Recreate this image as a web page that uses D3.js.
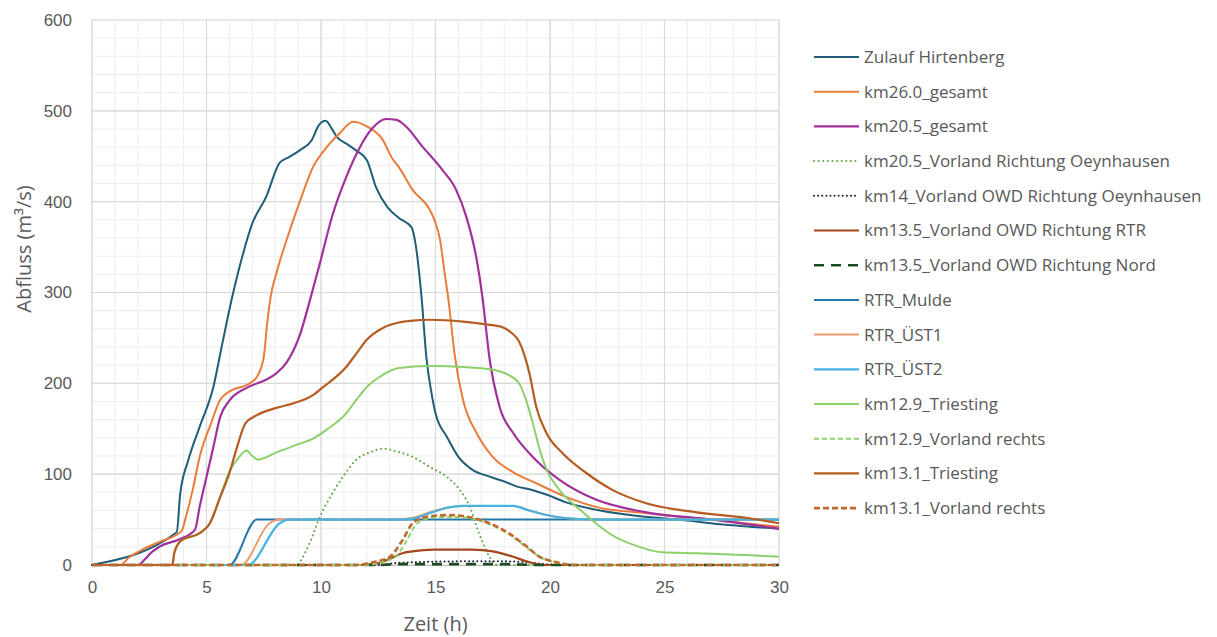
<!DOCTYPE html>
<html>
<head>
<meta charset="utf-8">
<script src="https://cdn.jsdelivr.net/npm/d3@7"></script>
<style>
  html, body { margin: 0; padding: 0; background: #ffffff; }
  svg { display: block; font-family: "Open Sans", "Noto Sans", sans-serif; }
</style>
</head>
<body>
<svg id="chart" width="1217" height="637"></svg>
<script>
// Abflussganglinien: Zeit (h) gegen Abfluss (m³/s), je Querschnitt [t, Q]
const zulaufHirtenberg = [
  [0,0],[3.7,36],[3.85,78],[4.2,115],[4.7,152],[5.3,196],[5.7,245],[6.15,298],[6.6,343],[7.0,376],
  [7.6,405],[8.2,443],[8.6,449],[9.1,457],[9.6,468],[9.9,484],[10.2,489],[10.5,479],[10.7,471],
  [11.1,464],[11.5,457],[12.0,446],[12.4,416],[12.9,394],[13.4,382],[13.95,372],[14.15,350],
  [14.4,292],[14.6,229],[14.8,193],[15.0,167],[15.5,141],[16.0,119],[16.6,105],[17.4,97],[18.1,91],
  [18.6,86],[19.0,84],[19.9,77],[20.7,69],[21.8,62],[23.5,55],[25.6,50],[27.8,44],[30,40]
];
const km260Gesamt = [
  [0,0],[1.25,0],[1.6,8],[2.2,17],[3.0,26],[3.9,37],[4.1,53],[4.4,83],[4.7,119],[5.2,156],[5.6,182],
  [6.15,193],[6.75,198],[7.2,207],[7.5,229],[7.65,266],[7.8,295],[8.05,321],[8.5,358],[9.1,402],
  [9.65,438],[10.25,460],[10.8,475],[11.4,488],[12.0,483],[12.7,468],[13.1,448],[13.4,438],[14.0,413],
  [14.75,391],[14.95,380],[15.2,358],[15.4,321],[15.55,295],[15.85,229],[16.2,182],[16.8,145],
  [17.5,119],[18.4,102],[19.4,90],[20.7,75],[22.0,64],[24.2,57],[27.0,50],[30,42]
];
const km205Gesamt = [
  [0,0],[2.0,0],[2.3,6],[2.6,14],[3.0,21],[3.8,28],[4.5,39],[4.7,64],[5.0,97],[5.3,130],[5.6,163],
  [6.0,181],[6.75,195],[7.6,204],[8.05,211],[8.5,223],[9.1,255],[9.5,290],[9.95,332],[10.5,385],
  [11.1,427],[11.7,460],[12.25,481],[12.85,491],[13.3,490],[13.7,483],[14.45,460],[15.3,435],
  [15.9,413],[16.35,383],[16.8,336],[17.05,295],[17.35,229],[17.8,174],[18.4,145],[19.25,119],
  [20.4,94],[22.0,72],[24.2,58],[27.1,50],[30,40]
];
const km205VorlandOeynhausen = [
  [0,0],[9.0,0],[9.05,2],[9.5,24],[9.95,53],[10.5,79],[10.95,97],[11.55,116],[12.25,125],[12.7,128],
  [13.3,125],[14.0,119],[14.75,108],[15.5,97],[16.05,83],[16.5,64],[16.9,35],[17.2,17],[17.45,5],
  [17.7,0],[30,0]
];
const km14VorlandOeynhausen = [
  [0,0],[12.5,0],[13.2,2],[14.0,3],[16.0,4],[18.0,4],[19.0,3],[19.8,1],[20.5,0],[30,0]
];
const km135VorlandRTR = [
  [0,0],[11.8,0],[12.5,2],[13.1,8],[13.55,13],[14.0,15],[14.9,17],[16.6,17],[17.5,15],[18.0,12],
  [18.4,9],[19.1,3],[19.8,0],[30,0]
];
const km135VorlandNord = [
  [0,0],[12.5,0],[13.5,1],[18.0,1],[19.5,0],[30,0]
];
const rtrMulde = [
  [0,0],[6.0,0],[7.2,50],[30,50]
];
const rtrUest1 = [
  [0,0],[6.5,0],[7.75,46],[8.2,50],[13.3,50],[14.0,52],[14.75,58],[15.5,63],[16.2,65],[18.4,65],
  [19.1,60],[19.85,55],[20.55,52],[21.8,50],[30,50]
];
const rtrUest2 = [
  [0,0],[6.8,0],[8.2,46],[8.6,50],[13.5,50],[14.0,51],[14.75,57],[15.5,63],[16.2,65],[18.4,65],
  [19.1,60],[19.85,55],[20.55,52],[22.0,50],[30,50]
];
const km129Triesting = [
  [0,0],[3.5,0],[3.6,14],[3.9,27],[4.7,35],[5.15,46],[5.6,75],[6.0,103],[6.4,118],[6.75,126],
  [7.0,120],[7.25,116],[8.05,124],[8.9,132],[9.65,139],[10.25,149],[11.1,167],[11.55,182],[12.0,196],
  [12.55,207],[13.4,217],[14.75,219],[16.2,218],[17.5,215],[18.2,209],[18.65,200],[18.95,182],
  [19.25,156],[19.55,127],[19.85,105],[20.4,83],[21.3,61],[22.0,46],[22.7,33],[23.9,20],[24.9,14],
  [26.4,13],[28.55,11],[30,9]
];
const km129VorlandRechts = [
  [0,0],[12.0,0],[12.6,3],[13.2,8],[13.7,25],[14.1,43],[14.6,51],[15.5,53],[16.6,51],[17.35,45],
  [18.2,34],[19.0,19],[19.55,9],[20.3,3],[21.0,0],[30,0]
];
const km131Triesting = [
  [0,0],[3.5,0],[3.6,14],[3.9,27],[4.7,35],[5.15,46],[5.6,75],[6.0,101],[6.3,127],[6.7,156],
  [7.2,165],[8.05,173],[8.8,178],[9.65,187],[10.1,196],[11.1,218],[11.55,233],[12.0,248],[12.7,261],
  [13.4,267],[14.0,269],[14.75,270],[16.2,268],[17.2,265],[17.9,262],[18.3,256],[18.65,246],
  [19.1,211],[19.4,174],[19.85,145],[20.55,123],[21.6,101],[22.7,83],[24.2,68],[26.4,58],[28.55,52],
  [30,46]
];
const km131VorlandRechts = [
  [0,0],[11.5,0],[12.25,3],[13.0,9],[13.55,27],[14.0,46],[14.6,53],[15.6,55],[16.6,52],[17.35,46],
  [18.2,35],[19.0,20],[19.55,9],[20.3,3],[21.0,0],[30,0]
];

const seriesNames = [
  "Zulauf Hirtenberg", "km26.0_gesamt", "km20.5_gesamt",
  "km20.5_Vorland Richtung Oeynhausen", "km14_Vorland OWD Richtung Oeynhausen",
  "km13.5_Vorland OWD Richtung RTR", "km13.5_Vorland OWD Richtung Nord",
  "RTR_Mulde", "RTR_ÜST1", "RTR_ÜST2", "km12.9_Triesting", "km12.9_Vorland rechts",
  "km13.1_Triesting", "km13.1_Vorland rechts"
];
const seriesValues = [
  zulaufHirtenberg, km260Gesamt, km205Gesamt, km205VorlandOeynhausen, km14VorlandOeynhausen,
  km135VorlandRTR, km135VorlandNord, rtrMulde, rtrUest1, rtrUest2, km129Triesting,
  km129VorlandRechts, km131Triesting, km131VorlandRechts
];

const xTicks = [0, 5, 10, 15, 20, 25, 30];
const yTicks = [0, 100, 200, 300, 400, 500, 600];

// Strichstil je Ganglinie
const styles = [
  { color: "#1f5d78", width: 2,   dash: null },
  { color: "#e97c3a", width: 2,   dash: null },
  { color: "#a0319b", width: 2.2, dash: null },
  { color: "#62a845", width: 2,   dash: "0.1 4.5", cap: "round" },
  { color: "#1d2740", width: 2,   dash: "0.1 4", cap: "round" },
  { color: "#a4481c", width: 2.2, dash: null },
  { color: "#1c4a22", width: 2.6, dash: "10 7" },
  { color: "#2577aa", width: 2,   dash: null },
  { color: "#ee9b70", width: 2,   dash: null },
  { color: "#47b3e0", width: 2.2, dash: null },
  { color: "#8cd06b", width: 2,   dash: null },
  { color: "#8cd06b", width: 2,   dash: "5 3" },
  { color: "#b65c22", width: 2.2, dash: null },
  { color: "#c06a2e", width: 2.6, dash: "6 3" }
];

const svg = d3.select("#chart");
const x = d3.scaleLinear().domain([0, 30]).range([92, 779]);
const y = d3.scaleLinear().domain([0, 600]).range([565, 20]);

// Gitternetz: Nebenlinien (1 h / 20 m³/s), dann Hauptlinien
const grid = svg.append("g");
grid.selectAll("line.minx").data(d3.range(0, 31, 1)).enter().append("line")
  .attr("x1", d => x(d)).attr("x2", d => x(d)).attr("y1", y(0)).attr("y2", y(600))
  .attr("stroke", "#ededed").attr("stroke-width", 1);
grid.selectAll("line.miny").data(d3.range(0, 601, 20)).enter().append("line")
  .attr("x1", x(0)).attr("x2", x(30)).attr("y1", d => y(d)).attr("y2", d => y(d))
  .attr("stroke", "#ededed").attr("stroke-width", 1);
grid.selectAll("line.majx").data(xTicks).enter().append("line")
  .attr("x1", d => x(d)).attr("x2", d => x(d)).attr("y1", y(0)).attr("y2", y(600))
  .attr("stroke", "#d9d9d9").attr("stroke-width", 1.2);
grid.selectAll("line.majy").data(yTicks).enter().append("line")
  .attr("x1", x(0)).attr("x2", x(30)).attr("y1", d => y(d)).attr("y2", d => y(d))
  .attr("stroke", "#d9d9d9").attr("stroke-width", 1.2);

// Achsen
const xAxis = svg.append("g").attr("transform", `translate(0,${y(0)})`)
  .call(d3.axisBottom(x).tickValues(xTicks).tickSize(0).tickPadding(16).tickFormat(d3.format("d")));
xAxis.select(".domain").attr("stroke", "#bfbfbf").attr("stroke-width", 1.2);
xAxis.selectAll("text").attr("fill", "#595959").style("font-size", "17px");

const yAxis = svg.append("g").attr("transform", `translate(${x(0)},0)`)
  .call(d3.axisLeft(y).tickValues(yTicks).tickSize(0).tickPadding(20).tickFormat(d3.format("d")));
yAxis.select(".domain").remove();
yAxis.selectAll("text").attr("fill", "#595959").style("font-size", "17px");

svg.append("text").attr("x", (x(0) + x(30)) / 2).attr("y", 631)
  .attr("text-anchor", "middle").attr("fill", "#595959").style("font-size", "20px")
  .text("Zeit (h)");
svg.append("text").attr("transform", "translate(31,249) rotate(-90)")
  .attr("text-anchor", "middle").attr("fill", "#595959").style("font-size", "20px")
  .text("Abfluss (m³/s)");

// Ganglinien
const line = d3.line().x(d => x(d[0])).y(d => y(d[1])).curve(d3.curveMonotoneX);
const plot = svg.append("g");
seriesValues.forEach((vals, i) => {
  const s = styles[i];
  plot.append("path").datum(vals)
    .attr("d", line)
    .attr("fill", "none")
    .attr("stroke", s.color)
    .attr("stroke-width", s.width)
    .attr("stroke-linejoin", "round")
    .attr("stroke-linecap", s.cap || "butt")
    .attr("stroke-dasharray", s.dash);
});

// Legende
const legend = svg.append("g");
const legY0 = 57, legStep = 34.7;
seriesNames.forEach((name, i) => {
  const s = styles[i];
  const ly = legY0 + i * legStep;
  legend.append("line")
    .attr("x1", 814).attr("x2", 859).attr("y1", ly).attr("y2", ly)
    .attr("stroke", s.color).attr("stroke-width", s.width)
    .attr("stroke-linecap", s.cap || "butt")
    .attr("stroke-dasharray", s.dash);
  legend.append("text")
    .attr("x", 864).attr("y", ly).attr("dy", "0.35em")
    .attr("fill", "#595959").style("font-size", "17px")
    .text(name);
});
</script>
</body>
</html>
